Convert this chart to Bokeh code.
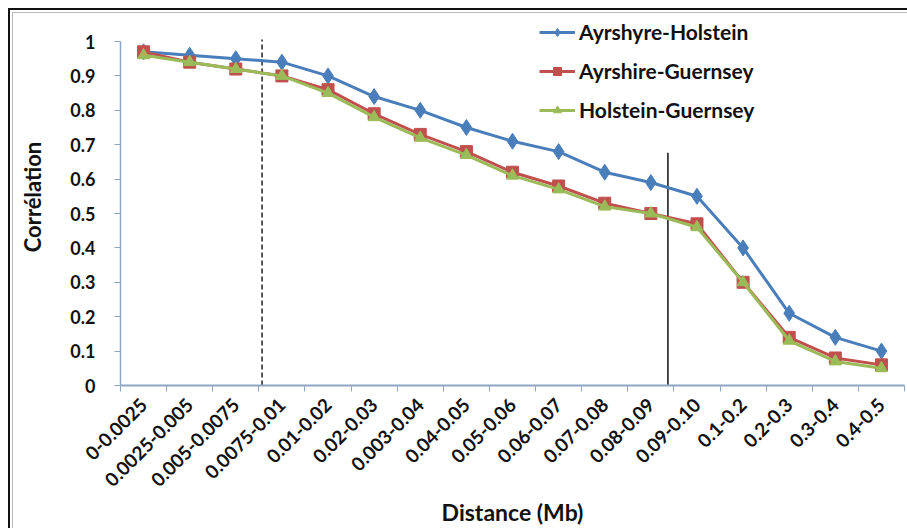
from bokeh.plotting import figure
from bokeh.models import FixedTicker, Range1d, Legend, LegendItem, ColumnDataSource
from bokeh.embed import file_html
from bokeh.resources import INLINE
import math

categories = ["0-0.0025", "0.0025-0.005", "0.005-0.0075", "0.0075-0.01", "0.01-0.02",
              "0.02-0.03", "0.003-0.04", "0.04-0.05", "0.05-0.06", "0.06-0.07",
              "0.07-0.08", "0.08-0.09", "0.09-0.10", "0.1-0.2", "0.2-0.3", "0.3-0.4", "0.4-0.5"]
ayrshyre_holstein = [0.97, 0.96, 0.95, 0.94, 0.90, 0.84, 0.80, 0.75, 0.71, 0.68,
                     0.62, 0.59, 0.55, 0.40, 0.21, 0.14, 0.10]
ayrshire_guernsey = [0.97, 0.94, 0.92, 0.90, 0.86, 0.79, 0.73, 0.68, 0.62, 0.58,
                     0.53, 0.50, 0.47, 0.30, 0.14, 0.08, 0.06]
holstein_guernsey = [0.96, 0.94, 0.92, 0.90, 0.85, 0.78, 0.72, 0.67, 0.61, 0.57,
                     0.52, 0.50, 0.46, 0.30, 0.13, 0.07, 0.05]
y_ticks = [0, 0.1, 0.2, 0.3, 0.4, 0.5, 0.6, 0.7, 0.8, 0.9, 1]
y_tick_labels = ["0", "0.1", "0.2", "0.3", "0.4", "0.5", "0.6", "0.7", "0.8", "0.9", "1"]
divider_x = [2.57, 11.37]
divider_top = [1.006, 0.677]

FONT = "Lato"
AXIS_COLOR = "#8EA6C6"

idx = list(range(len(categories)))

p = figure(width=907, height=528, output_backend="svg", toolbar_location=None,
           x_range=Range1d(-0.5, 16.5), y_range=Range1d(0, 1.096),
           min_border_left=120, min_border_top=8, min_border_bottom=143, min_border_right=3)
p.styles = {
    "background": ("linear-gradient(#111,#111) 8px 8px / 2px 530px no-repeat, "
                   "linear-gradient(#111,#111) 8px 8px / 910px 2px no-repeat, "
                   "linear-gradient(#bbb,#bbb) 12px 12px / 1px 530px no-repeat, "
                   "linear-gradient(#bbb,#bbb) 12px 12px / 910px 1px no-repeat, white"),
}
p.border_fill_alpha = 0
p.background_fill_alpha = 0
p.outline_line_color = None
p.grid.grid_line_color = None

# x axis
p.xaxis.ticker = FixedTicker(ticks=idx, minor_ticks=[i - 0.5 for i in range(len(categories) + 1)])
p.xaxis.major_label_overrides = {i: c for i, c in enumerate(categories)}
p.xaxis.major_label_orientation = math.pi / 4
p.xaxis.major_tick_out = 0
p.xaxis.major_tick_in = 0
p.xaxis.minor_tick_out = 6
p.xaxis.minor_tick_in = 0
p.xaxis.minor_tick_line_color = AXIS_COLOR
p.xaxis.axis_line_color = AXIS_COLOR
p.xaxis.axis_line_width = 2
p.xaxis.major_label_text_font = FONT
p.xaxis.major_label_text_font_style = "bold"
p.xaxis.major_label_text_font_size = "19px"
p.xaxis.major_label_text_color = "#111"
p.xaxis.major_label_standoff = 10
p.xaxis.axis_label = "Distance (Mb)"
p.xaxis.axis_label_text_font = FONT
p.xaxis.axis_label_text_font_style = "bold"
p.xaxis.axis_label_text_font_size = "23px"
p.xaxis.axis_label_text_color = "#111"
p.xaxis.axis_label_standoff = 2

# y axis
p.yaxis.ticker = FixedTicker(ticks=y_ticks)
p.yaxis.major_label_overrides = {t: l for t, l in zip(y_ticks, y_tick_labels)}
p.yaxis.bounds = (0, 1)
p.yaxis.major_tick_out = 6
p.yaxis.major_tick_in = 0
p.yaxis.minor_tick_line_color = None
p.yaxis.major_tick_line_color = AXIS_COLOR
p.yaxis.axis_line_color = AXIS_COLOR
p.yaxis.axis_line_width = 1.5
p.yaxis.major_label_text_font = FONT
p.yaxis.major_label_text_font_style = "bold"
p.yaxis.major_label_text_font_size = "18px"
p.yaxis.major_label_text_color = "#111"
p.yaxis.major_label_standoff = 19
p.yaxis.axis_label = "Corrélation"
p.yaxis.axis_label_text_font = FONT
p.yaxis.axis_label_text_font_style = "bold"
p.yaxis.axis_label_text_font_size = "22px"
p.yaxis.axis_label_text_color = "#111"
p.yaxis.axis_label_standoff = 21

# divider lines
p.segment(x0=[divider_x[0]], y0=[0], x1=[divider_x[0]], y1=[divider_top[0]],
          line_color="#222", line_width=1.5, line_dash="5 3")
p.segment(x0=[divider_x[1]], y0=[-0.005], x1=[divider_x[1]], y1=[divider_top[1]],
          line_color="#111", line_width=1.5)

series = [
    ("Ayrshyre-Holstein", ayrshyre_holstein, "#4A7EBB", "diamond", 16),
    ("Ayrshire-Guernsey", ayrshire_guernsey, "#C0504D", "square", 12),
    ("Holstein-Guernsey", holstein_guernsey, "#9BBB59", "triangle", 12),
]
items = []
for name, vals, color, marker, size in series:
    src = ColumnDataSource(dict(x=idx, y=vals))
    l = p.line("x", "y", source=src, line_color=color, line_width=3)
    m = p.scatter("x", "y", source=src, marker=marker, size=size,
                  fill_color=color, line_color=color)
    items.append(LegendItem(label=name, renderers=[l, m]))

legend = Legend(items=items, location=(419, 263), border_line_color=None,
                background_fill_alpha=0, label_text_font=FONT, label_text_font_style="bold",
                label_text_font_size="21px", label_text_color="#111",
                glyph_width=36, glyph_height=20, label_height=20, spacing=14,
                label_standoff=4, padding=6)
p.add_layout(legend, "center")

open("out.html", "w").write(file_html(p, INLINE))
